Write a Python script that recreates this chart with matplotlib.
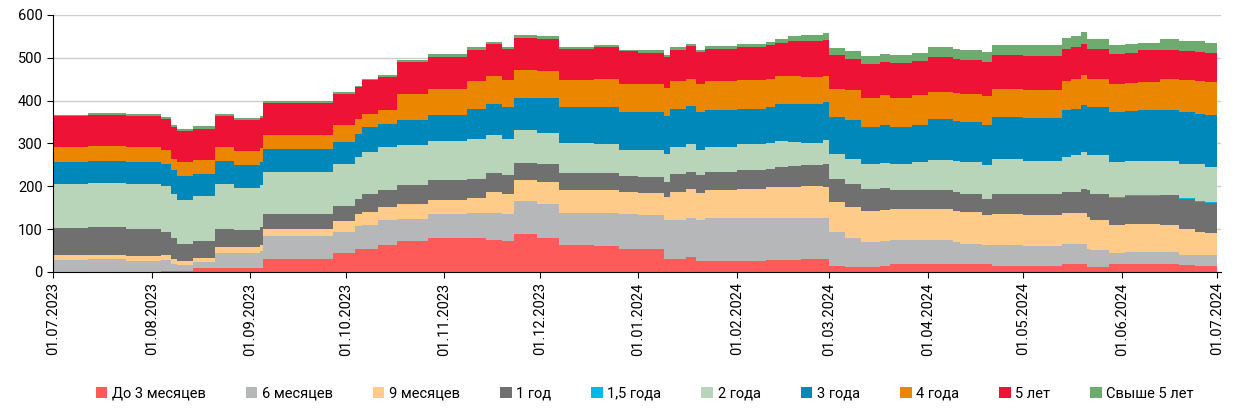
import numpy as np
import pandas as pd
import matplotlib
matplotlib.use("Agg")
import matplotlib.pyplot as plt
import matplotlib.dates as mdates
from matplotlib.patches import Patch

plt.rcParams['font.family'] = ['Roboto', 'DejaVu Sans']

# даты смены значений (ступеньки)
dates = ["2023-07-01", "2023-07-12", "2023-07-24", "2023-08-04", "2023-08-07",
         "2023-08-09", "2023-08-14", "2023-08-21", "2023-08-27", "2023-09-04",
         "2023-09-05", "2023-09-27", "2023-10-04", "2023-10-06", "2023-10-11",
         "2023-10-17", "2023-10-27", "2023-11-08", "2023-11-14", "2023-11-19",
         "2023-11-23", "2023-11-30", "2023-12-07", "2023-12-18", "2023-12-26",
         "2024-01-01", "2024-01-09", "2024-01-11", "2024-01-16", "2024-01-19",
         "2024-01-22", "2024-02-01", "2024-02-10", "2024-02-13", "2024-02-17",
         "2024-02-21", "2024-02-28", "2024-03-01", "2024-03-06", "2024-03-11",
         "2024-03-17", "2024-03-20", "2024-03-27", "2024-04-01", "2024-04-09",
         "2024-04-11", "2024-04-18", "2024-04-21", "2024-05-01", "2024-05-13",
         "2024-05-16", "2024-05-19", "2024-05-21", "2024-05-22", "2024-05-28",
         "2024-06-02", "2024-06-06", "2024-06-13", "2024-06-19", "2024-06-24",
         "2024-06-27", "2024-07-01"]

m3 = [0, 0, 0, 2, 2, 3, 8, 9, 9, 10, 31, 43, 54, 54, 62, 72, 79, 78, 75, 72,
      89, 80, 62, 61, 54, 53, 31, 31, 35, 26, 26, 26, 27, 27, 27, 29, 31, 13,
      12, 12, 13, 18, 18, 18, 18, 18, 18, 13, 13, 18, 18, 18, 12, 12, 19, 19,
      19, 19, 16, 13, 13, 13]
m6 = [27, 29, 26, 25, 17, 14, 15, 35, 35, 38, 53, 50, 53, 55, 59, 52, 56, 60,
      63, 63, 77, 78, 76, 77, 81, 79, 91, 91, 92, 96, 101, 101, 100, 100, 100,
      98, 96, 79, 68, 58, 59, 57, 57, 57, 52, 48, 44, 49, 47, 48, 48, 47, 42,
      40, 25, 28, 28, 28, 24, 26, 26, 26]
m9 = [12, 11, 11, 12, 12, 9, 10, 14, 13, 14, 16, 26, 29, 31, 31, 34, 34, 35,
      49, 48, 49, 53, 54, 53, 52, 52, 53, 65, 66, 62, 64, 67, 71, 71, 71, 73,
      71, 71, 72, 72, 73, 73, 71, 71, 73, 74, 72, 73, 74, 72, 72, 73, 74, 70,
      65, 65, 65, 62, 61, 54, 52, 52]
y1 = [64, 65, 64, 54, 47, 40, 39, 43, 40, 43, 35, 34, 35, 43, 40, 44, 45, 45,
      45, 43, 40, 40, 39, 39, 36, 38, 35, 41, 40, 42, 42, 45, 43, 47, 49, 49,
      55, 53, 54, 52, 52, 44, 46, 45, 44, 43, 37, 46, 49, 49, 49, 56, 63, 61,
      64, 65, 65, 70, 70, 70, 70, 70]
y15 = [0] * 54 + [1.5] * 8
y2 = [103, 103, 105, 107, 105, 103, 105, 105, 99, 97, 98, 100, 97, 97, 100,
      94, 91, 93, 87, 85, 77, 73, 70, 68, 62, 63, 66, 64, 65, 59, 59, 59, 61,
      60, 56, 53, 56, 59, 58, 59, 58, 61, 65, 71, 72, 74, 78, 83, 77, 81, 85,
      86, 83, 89, 82.5, 79.5, 81.5, 78.5, 80.5, 86.5, 82.5, 82.5]
y3 = [51, 50, 51, 53, 54, 56, 52, 53, 53, 55, 55, 50, 55, 58, 54, 59, 61, 69,
      72, 74, 75, 81, 84, 87, 88, 88, 87, 88, 89, 88, 87, 83, 83, 86, 88, 89,
      88, 87, 90, 85, 87, 85, 85, 94, 93, 93, 93, 98, 100, 109, 109, 109, 111,
      112, 116, 118, 117, 118, 120, 118, 121, 121]
y4 = [35, 36, 35, 31, 27, 32, 33, 33, 33, 33, 31, 39, 35, 31, 33, 61, 62, 66,
      66, 64, 64, 64, 62, 66, 65, 65, 67, 66, 64, 65, 67, 68, 66, 66, 66, 64,
      60, 66, 70, 69, 70, 69, 70, 65, 65, 65, 68, 66, 65, 69, 70, 71, 66, 67,
      65, 64, 67, 74, 74, 77, 78, 78]
y5 = [71, 73, 72, 74, 74, 72, 72, 71, 72, 70, 76, 74, 73, 78, 76, 74, 74, 73,
      76, 72, 76, 75, 74, 75, 77, 73, 72, 73, 77, 75, 75, 76, 79, 78, 81, 83,
      85, 78, 74, 79, 79, 81, 81, 80, 81, 80, 79, 78, 78, 75, 73, 73, 70, 70,
      71, 72, 73, 68, 69, 68, 67, 67]
over5 = [4, 5, 4, 4, 4, 5, 6, 6, 6, 5, 4, 4, 4, 4, 4, 4, 6, 5, 4, 4, 5, 6, 4,
         4, 4, 6, 4, 5, 3, 6, 6, 6, 7, 9, 12, 14, 16, 16, 18, 18, 18, 18, 18,
         24, 23, 24, 24, 23, 26, 26, 26, 27, 23, 23, 20, 21, 18, 25, 24, 24,
         23, 23]

labels = ["До 3 месяцев", "6 месяцев", "9 месяцев", "1 год", "1,5 года",
          "2 года", "3 года", "4 года", "5 лет", "Свыше 5 лет"]
colors = ["#FF5A5A", "#B6B7B9", "#FFCB88", "#707070", "#00B9E9",
          "#B8D5BA", "#0088BB", "#EA8600", "#EE1236", "#6EAB6F"]

x = pd.to_datetime(dates)
series = np.array([m3, m6, m9, y1, y15, y2, y3, y4, y5, over5], dtype=float)

fig = plt.figure(figsize=(12.33, 4.12), dpi=100)
ax = fig.add_axes([0.043, 0.340, 0.947, 0.624])

ax.stackplot(x, series, colors=colors, labels=labels, step='post', linewidth=0)

ax.set_ylim(0, 600)
ax.set_yticks(range(0, 601, 100))
ax.set_xlim(pd.Timestamp("2023-07-01"), pd.Timestamp("2024-07-02"))
ax.xaxis.set_major_locator(mdates.MonthLocator(bymonthday=1))
ax.xaxis.set_major_formatter(mdates.DateFormatter("%d.%m.%Y"))
plt.setp(ax.get_xticklabels(), rotation=90)
ax.tick_params(axis='both', labelsize=10.5, length=4, color='black')

ax.grid(axis='y', color='#CCCCCC', linewidth=1)
ax.set_axisbelow(True)
for s in ['top', 'right']:
    ax.spines[s].set_visible(False)
ax.spines['left'].set_color('black')
ax.spines['bottom'].set_color('black')

handles = [Patch(facecolor=c, edgecolor='none') for c in colors]
fig.legend(handles, labels, loc='lower center', bbox_to_anchor=(0.523, -0.005),
           ncol=10, frameon=False, fontsize=10.5, handlelength=0.8,
           handleheight=0.8, handletextpad=0.3, columnspacing=2.75)

fig.savefig("out.png", dpi=100)
